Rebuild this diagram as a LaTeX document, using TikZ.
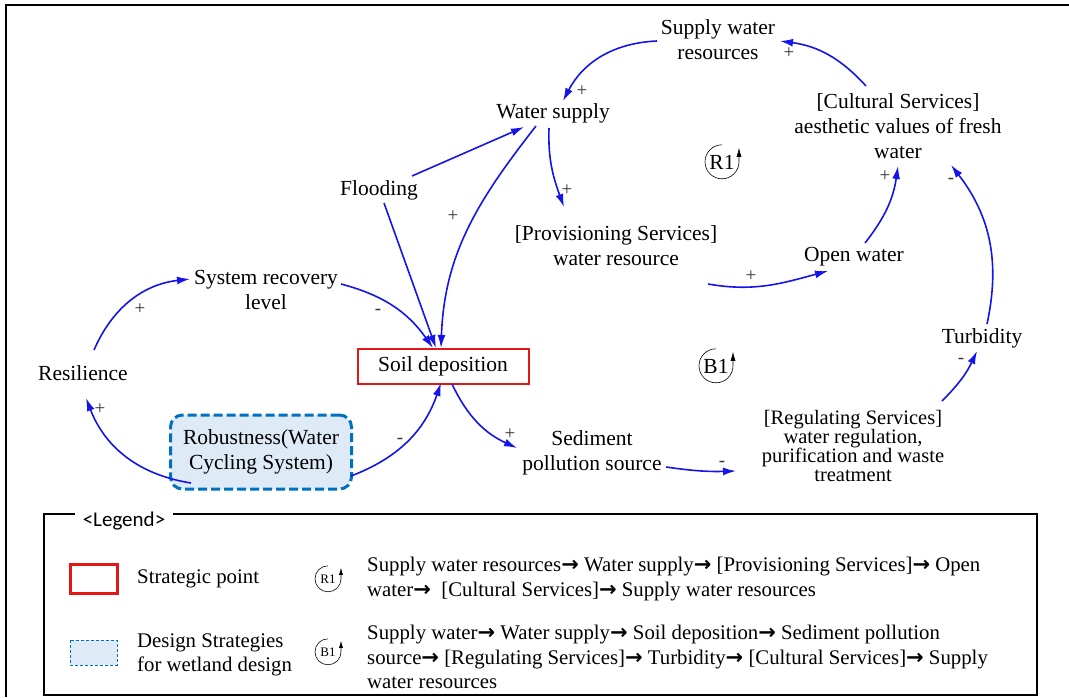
\documentclass[tikz,border=0pt]{standalone}
\usepackage{fontspec}
\setmainfont{Liberation Serif}
\newfontfamily\legendfont{Carlito}
\newfontfamily\arrowfont{DejaVu Sans}
\newcommand{\legarrow}{{\arrowfont\bfseries\fontsize{21}{21}\selectfont →}}
\usetikzlibrary{arrows.meta}

\definecolor{linkblue}{RGB}{20,20,235}
\definecolor{strategicred}{RGB}{228,22,22}
\definecolor{designblue}{RGB}{0,112,192}
\definecolor{designfill}{RGB}{222,235,247}

\tikzset{
  var/.style={align=center, inner sep=0pt, font=\fontsize{21.5}{25}\selectfont},
  link/.style={linkblue, line width=1.6pt, -{Latex[length=13pt,width=8pt]}},
  pol/.style={inner sep=0pt, text=black!80, font=\fontsize{19}{19}\selectfont},
  loopname/.style={circle, minimum size=34pt, inner sep=0pt, font=\fontsize{21.5}{25}\selectfont},
  smallloop/.style={circle, minimum size=26pt, inner sep=0pt, font=\fontsize{13}{13}\selectfont},
  loopline/.style={black, line width=0.6pt, -{Latex[length=9pt,width=5pt]}},
  strategic/.style={draw=strategicred, line width=2pt, minimum width=171pt, minimum height=35pt,
    inner sep=0pt, font=\fontsize{21.5}{25}\selectfont},
  design/.style={draw=designblue, fill=designfill, dash pattern=on 9pt off 4pt, line width=3pt,
    rounded corners=12pt, minimum width=181pt, minimum height=74pt, inner sep=0pt, align=center,
    font=\fontsize{21.5}{25}\selectfont},
  legendtext/.style={align=left, inner sep=0pt, anchor=west, font=\fontsize{20.8}{24.5}\selectfont},
}

\begin{document}
\begin{tikzpicture}[x=1pt, y=1pt]
    \useasboundingbox (0,0) rectangle (1069,-697);
    \draw[line width=1.5pt] (6,-697) -- (6,-5) -- (1069,-5);

    % variables
    \node[var] (swr) at (718,-40) {Supply water\\resources};
    \node[var] (ws) at (553,-113) {Water supply};
    \node[var] (cult) at (898,-126) {[Cultural Services]\\aesthetic values of fresh\\water};
    \node[var] (flood) at (379,-190) {Flooding};
    \node[var] (prov) at (616,-246) {[Provisioning Services]\\water resource};
    \node[var] (open) at (854,-257) {Open water};
    \node[var] (sysrec) at (266,-290) {System recovery\\level};
    \node[var] (resil) at (83,-373) {Resilience};
    \node[var] (turb) at (982,-338) {Turbidity};
    \node[strategic] (soil) at (443,-366) {Soil deposition};
    \node[design] (rob) at (261,-452) {Robustness(Water\\Cycling System)};
    \node[var] (sed) at (592,-453) {Sediment\\pollution source};
    \node[var, font=\fontsize{20.5}{19.3}\selectfont] (reg) at (853,-446)
        {[Regulating Services]\\water regulation,\\purification and waste\\treatment};

    % loops
    \node[loopname] (r1) at (722,-162) {R1};
    \node[loopname] (b1) at (716,-366) {B1};
    \draw[loopline] (r1.90) arc[start angle=90, end angle=360, radius=17] -- ++(0,14);
    \draw[loopline] (b1.90) arc[start angle=90, end angle=360, radius=17] -- ++(0,14);

    % R1
    \draw[link] ([shift={(-61,-1)}]swr.center) to[bend right=30] ([shift={(10,12)}]ws.center);
    \draw[link] ([shift={(-4,-15)}]ws.center) to[out=-92,in=110] ([shift={(-52,39)}]prov.center);
    \draw[link] ([shift={(92,-38)}]prov.center) to[out=-10,in=195] ([shift={(-26,-14)}]open.center);
    \draw[link] ([shift={(11,14)}]open.center) to[bend right=15] ([shift={(0,-40)}]cult.center);
    \draw[link] ([shift={(-32,40)}]cult.center) to[bend right=20] ([shift={(62,-1)}]swr.center);
    % B1
    \draw[link] ([shift={(-17,-13)}]ws.center) to[out=-128,in=88] ([shift={(-2,18)}]soil.center);
    \draw[link] ([shift={(9,-18)}]soil.center) to[bend right=20] ([shift={(-75,5)}]sed.center);
    \draw[link] ([shift={(74,-14)}]sed.center) to[bend right=5] ([shift={(-117,-25)}]reg.center);
    \draw[link] ([shift={(89,45)}]reg.center) to[bend right=10] ([shift={(-5,-13)}]turb.center);
    \draw[link] ([shift={(5,14)}]turb.center) to[bend right=25] ([shift={(53,-39)}]cult.center);
    % others
    \draw[link] ([shift={(33,14)}]flood.center) -- ([shift={(-29,-14)}]ws.center);
    \draw[link] ([shift={(5,-13)}]flood.center) -- ([shift={(-7,18)}]soil.center);
    \draw[link] ([shift={(75,6)}]sysrec.center) to[bend left=20] ([shift={(-10,18)}]soil.center);
    \draw[link] ([shift={(11,23)}]resil.center) to[bend left=30] ([shift={(-76,11)}]sysrec.center);
    \draw[link] ([shift={(-70,-31)}]rob.center) to[bend left=30] ([shift={(3,-25)}]resil.center);
    \draw[link] ([shift={(90,-24)}]rob.center) to[bend right=25] ([shift={(-2,-17)}]soil.center);

    % polarities
    \node[pol] (p1) at (582,-91) {+};
    \node[pol] (p2) at (789,-53) {+};
    \node[pol] (p3) at (567,-190) {+};
    \node[pol] (p4) at (751,-276) {+};
    \node[pol] (p5) at (885,-176) {+};
    \node[pol] (p6) at (951,-181) {-};
    \node[pol] (p7) at (961,-361) {-};
    \node[pol] (p8) at (722,-464) {-};
    \node[pol] (p9) at (510,-434) {+};
    \node[pol] (p10) at (400,-441) {-};
    \node[pol] (p11) at (100,-409) {+};
    \node[pol] (p12) at (140,-309) {+};
    \node[pol] (p13) at (378,-312) {-};
    \node[pol] (p14) at (453,-216) {+};

    % legend
    \draw[line width=1.2pt] (44,-514) rectangle (1037,-695);
    \node[fill=white, inner xsep=8pt, font=\legendfont\fontsize{21}{21}\selectfont] (legtitle) at (124,-521) {<Legend>};
    \draw[strategicred, line width=3pt] (70,-564) rectangle (117,-593);
    \node[legendtext] (legstrat) at (137,-579) {Strategic point};
    \draw[designblue, fill=designfill, densely dashed, line width=1pt] (70,-640) rectangle (117,-665);
    \node[legendtext] (legdesign) at (137,-655) {Design Strategies\\for wetland design};
    \node[smallloop] (lr1) at (328,-579) {R1};
    \node[smallloop] (lb1) at (328,-652) {B1};
    \draw[loopline, -{Latex[length=7pt,width=4pt]}] (lr1.90) arc[start angle=90, end angle=360, radius=13] -- ++(0,11);
    \draw[loopline, -{Latex[length=7pt,width=4pt]}] (lb1.90) arc[start angle=90, end angle=360, radius=13] -- ++(0,11);
    \node[legendtext] (legr1) at (367,-579) {Supply water resources\legarrow{} Water supply\legarrow{} [Provisioning Services]\legarrow{} Open\\
        water\legarrow{}~ [Cultural Services]\legarrow{} Supply water resources};
    \node[legendtext] (legb1) at (367,-657) {Supply water\legarrow{} Water supply\legarrow{} Soil deposition\legarrow{} Sediment pollution\\
        source\legarrow{} [Regulating Services]\legarrow{} Turbidity\legarrow{} [Cultural Services]\legarrow{} Supply\\water resources};
\end{tikzpicture}
\end{document}
